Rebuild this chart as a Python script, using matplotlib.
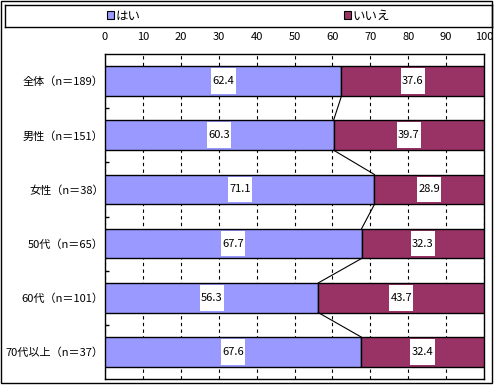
import numpy as np
import matplotlib.pyplot as plt
from matplotlib.patches import Patch, Rectangle
from matplotlib.path import Path

plt.rcParams['font.family'] = ['Noto Sans CJK JP', 'DejaVu Sans']

# Data
categories = ['全体（n＝189）', '男性（n＝151）', '女性（n＝38）',
              '50代（n＝65）', '60代（n＝101）', '70代以上（n＝37）']
yes_vals = [62.4, 60.3, 71.1, 67.7, 56.3, 67.6]
no_vals = [37.6, 39.7, 28.9, 32.3, 43.7, 32.4]
series_names = ['はい', 'いいえ']
colors = ['#9999FF', '#993366']
xticks = [0, 10, 20, 30, 40, 50, 60, 70, 80, 90, 100]


def label_box(x0, y0, width, height, mutation_size):
    # white box, tall and narrow like the original
    px = 0.12 * mutation_size
    py = 0.7 * mutation_size
    x0, y0 = x0 - px, y0 - py
    x1, y1 = x0 + width + 2 * px, y0 + height + 2 * py
    return Path([(x0, y0), (x1, y0), (x1, y1), (x0, y1), (x0, y0)], closed=True)


fig = plt.figure(figsize=(5, 3.85), dpi=100)
W, H = 500, 385

# outer border
fig.patches.append(Rectangle((0.5 / W, 2 / H), 491.5 / W, 382.5 / H,
                             transform=fig.transFigure, fill=False,
                             edgecolor='black', linewidth=1.0))

ax = fig.add_axes([105 / W, 1 - 379 / H, 379 / W, 325 / H])
y = np.arange(len(categories))
h = 0.55
yes = np.array(yes_vals)
no = np.array(no_vals)

ax.barh(y, yes, height=h, color=colors[0], edgecolor='black', linewidth=1.0, zorder=3)
ax.barh(y, no, left=yes, height=h, color=colors[1], edgecolor='black', linewidth=1.0, zorder=3)

# series lines between bars
for i in range(len(y) - 1):
    ax.plot([yes[i], yes[i + 1]], [y[i] + h / 2, y[i + 1] - h / 2],
            color='black', linewidth=0.8, zorder=4)

# value labels
for i in range(len(y)):
    for v, left in ((yes[i], 0), (no[i], yes[i])):
        ax.text(left + v / 2, y[i], f'{v:.1f}', ha='center', va='center',
                fontsize=8, zorder=5,
                bbox=dict(boxstyle=label_box, facecolor='white', edgecolor='none'))

ax.set_xlim(0, 100)
ax.set_ylim(len(y) - 0.5, -0.5)
ax.set_xticks(xticks)
ax.xaxis.tick_top()
ax.tick_params(axis='x', length=0, labelsize=8, pad=9)
ax.set_yticks(y)
ax.set_yticklabels(categories, fontsize=8)
ax.tick_params(axis='y', which='major', length=0, pad=1)
ax.set_yticks(np.arange(0.5, len(y) - 1, 1.0), minor=True)
ax.tick_params(axis='y', which='minor', direction='in', length=3, width=1)
ax.grid(axis='x', color='black', linestyle=(0, (3, 3)), linewidth=0.8, zorder=1)
for s in ax.spines.values():
    s.set_linewidth(1.0)

# legend box
lax = fig.add_axes([5 / W, 1 - 27 / H, 487 / W, 22 / H])
lax.set_xticks([])
lax.set_yticks([])
for s in lax.spines.values():
    s.set_linewidth(1.0)
handles = [Patch(facecolor=c, edgecolor='black', linewidth=0.8) for c in colors]
lax.legend(handles, series_names, loc='center', ncol=2, frameon=False,
           fontsize=9, handlelength=0.55, handleheight=0.55, handletextpad=0.1,
           columnspacing=16.3, borderaxespad=0)

fig.savefig('out.png', dpi=100)
